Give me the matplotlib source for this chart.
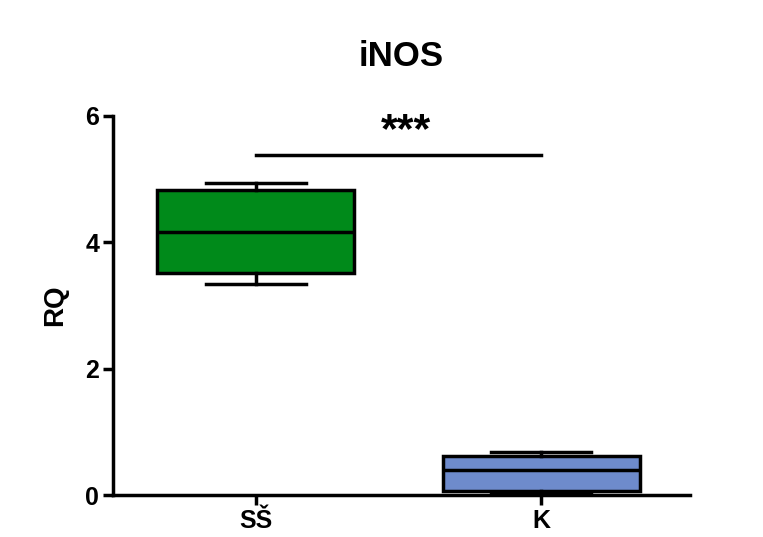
import matplotlib
matplotlib.use("Agg")
import matplotlib.pyplot as plt

plt.rcParams["font.family"] = ["Liberation Sans", "DejaVu Sans"]

# Data
groups = ["SŠ", "K"]
whisker_low = [3.34, 0.03]
q1 = [3.51, 0.06]
medians = [4.16, 0.40]
q3 = [4.83, 0.62]
whisker_high = [4.94, 0.68]
colors = ["#008A1A", "#6E8BCC"]
sig_y = 5.38
sig_text = "***"

fig = plt.figure(figsize=(7.63, 5.37), dpi=100)
ax = fig.add_axes([0.148, 0.078, 0.756, 0.706])

stats = []
for i, name in enumerate(groups):
    stats.append(dict(label=name, whislo=whisker_low[i], q1=q1[i], med=medians[i],
                      q3=q3[i], whishi=whisker_high[i], fliers=[]))

lw = 2.5
bp = ax.bxp(stats, positions=range(len(groups)), widths=0.69, capwidths=0.35,
            patch_artist=True, showfliers=False,
            boxprops=dict(linewidth=lw, edgecolor="black"),
            medianprops=dict(color="black", linewidth=lw),
            whiskerprops=dict(color="black", linewidth=lw),
            capprops=dict(color="black", linewidth=lw))
for patch, c in zip(bp["boxes"], colors):
    patch.set_facecolor(c)

# significance bar
ax.plot([0, 1], [sig_y, sig_y], color="black", linewidth=lw)
ax.text(0.525, sig_y + 0.07, sig_text, ha="center", va="bottom", fontsize=31, fontweight="bold")

ax.set_xlim(-0.5, 1.52)
ax.set_ylim(0, 6)
ax.set_yticks([0, 2, 4, 6])
ax.set_xticks(range(len(groups)))
ax.set_xticklabels(groups)
for s in ["top", "right"]:
    ax.spines[s].set_visible(False)
for s in ["left", "bottom"]:
    ax.spines[s].set_linewidth(lw)
ax.tick_params(width=lw, length=7, labelsize=18, pad=3)
for lab in ax.get_xticklabels() + ax.get_yticklabels():
    lab.set_fontweight("bold")
ax.set_ylabel("RQ", fontsize=20, fontweight="bold", labelpad=12)
ax.set_title("iNOS", fontsize=25, fontweight="bold", pad=36)

fig.savefig("out.png", dpi=100)
